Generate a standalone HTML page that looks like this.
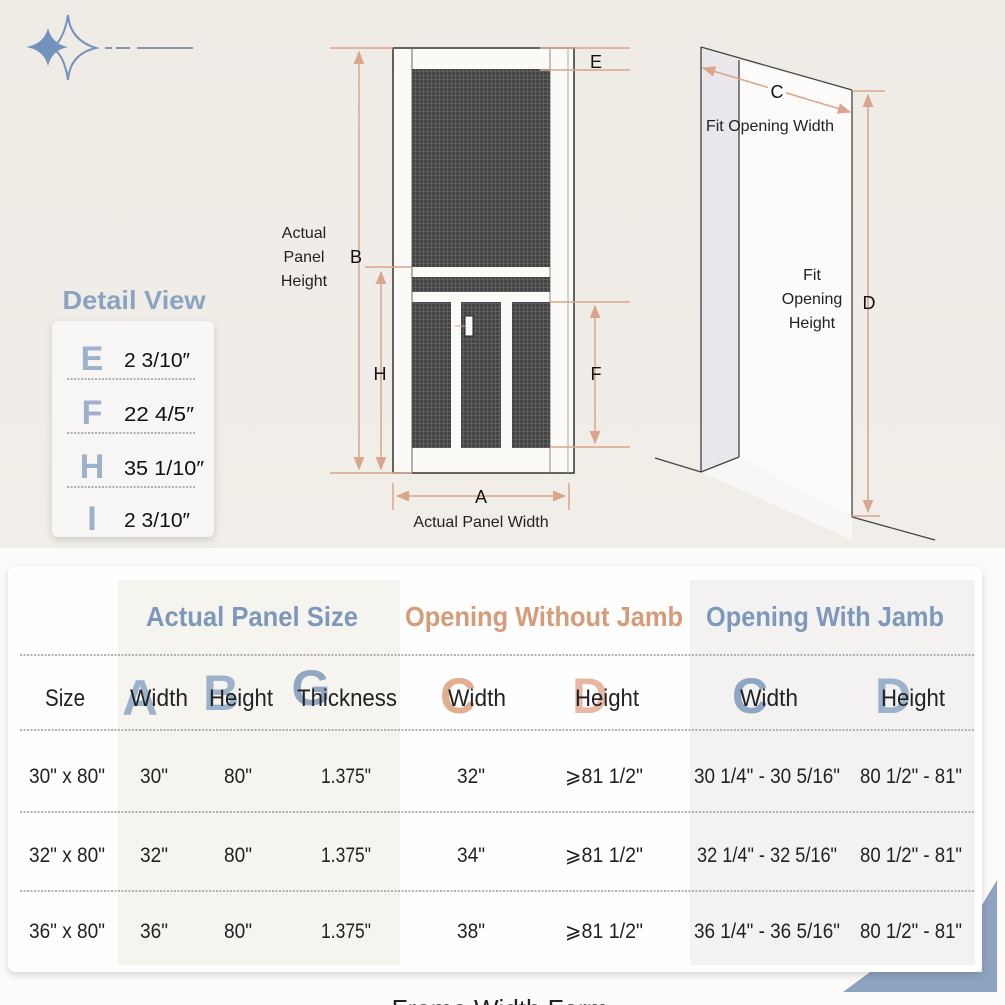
<!DOCTYPE html>
<html><head><meta charset="utf-8"><style>
html,body{margin:0;padding:0;background:#fff;}
svg{display:block;}
text{font-family:"Liberation Sans",sans-serif;}
.n{font-family:"Liberation Sans Narrow","Liberation Sans",sans-serif;}
</style></head><body>
<svg width="1005" height="1005" viewBox="0 0 1005 1005" xmlns="http://www.w3.org/2000/svg">
<defs>
<pattern id="mesh" width="4" height="4" patternUnits="userSpaceOnUse">
<rect width="4" height="4" fill="#5e5e5e"/><rect width="3" height="3" fill="#444"/>
</pattern>
<linearGradient id="bg" x1="0" y1="0" x2="0" y2="1"><stop offset="0" stop-color="#efebe5"/><stop offset="1" stop-color="#f1eee9"/></linearGradient>
<marker id="ar" viewBox="0 0 10 10" refX="9" refY="5" markerWidth="9" markerHeight="9" orient="auto-start-reverse"><path d="M0,1 L10,5 L0,9 z" fill="#d9a58c"/></marker>
<filter id="sh" x="-5%" y="-5%" width="110%" height="110%"><feDropShadow dx="0" dy="3" stdDeviation="4" flood-color="#000" flood-opacity="0.15"/></filter>
</defs>
<rect width="1005" height="548" fill="url(#bg)"/>
<rect y="548" width="1005" height="457" fill="#fcfbfa"/>
<polygon points="843,992 870,972 982,972 982,905 997,880 997,992" fill="#8ea3bf"/>

<!-- logo -->
<path d="M48,28 Q52,44 68,47 Q52,50 48,66 Q44,50 26,47 Q44,44 48,28z" fill="#7393bc"/>
<path d="M68,15 Q70,40 96,48 Q70,54 68,80 Q64,54 52,48 Q64,40 68,15z" fill="none" stroke="#7393bc" stroke-width="2"/>
<line x1="105" y1="48" x2="112" y2="48" stroke="#8a96a8" stroke-width="2"/>
<line x1="116" y1="48" x2="130" y2="48" stroke="#8a96a8" stroke-width="2"/>
<line x1="137" y1="48" x2="193" y2="48" stroke="#8a96a8" stroke-width="2"/>

<!-- door -->
<rect x="393" y="48" width="181" height="425" fill="#fbfaf7" stroke="#333" stroke-width="1.5"/>
<line x1="412" y1="48" x2="412" y2="473" stroke="#666"/>
<line x1="550" y1="48" x2="550" y2="473" stroke="#888"/>
<line x1="568" y1="48" x2="568" y2="473" stroke="#aaa"/>
<rect x="412" y="69" width="138" height="198" fill="url(#mesh)"/>
<rect x="412" y="277" width="138" height="15" fill="url(#mesh)"/>
<rect x="412" y="302" width="138" height="146" fill="url(#mesh)"/>
<rect x="451" y="302" width="10" height="146" fill="#fbfaf7"/>
<rect x="501" y="302" width="11" height="146" fill="#fbfaf7"/>
<rect x="465" y="316" width="8" height="20" fill="#fbfaf7" stroke="#222"/>
<line x1="455" y1="326" x2="465" y2="326" stroke="#d9a58c"/>

<!-- door dims -->
<g stroke="#d9a58c" stroke-width="1.5" fill="none">
<line x1="330" y1="48" x2="393" y2="48"/><line x1="330" y1="473" x2="412" y2="473"/>
<line x1="359" y1="52" x2="359" y2="469" marker-start="url(#ar)" marker-end="url(#ar)"/>
<line x1="365" y1="267" x2="412" y2="267"/>
<line x1="381" y1="272" x2="381" y2="469" marker-start="url(#ar)" marker-end="url(#ar)"/>
<line x1="550" y1="302" x2="630" y2="302"/><line x1="550" y1="447" x2="630" y2="447"/>
<line x1="595" y1="306" x2="595" y2="443" marker-start="url(#ar)" marker-end="url(#ar)"/>
<line x1="540" y1="48" x2="630" y2="48"/><line x1="540" y1="70" x2="630" y2="70"/>
<line x1="393" y1="483" x2="393" y2="510"/><line x1="569" y1="483" x2="569" y2="510"/>
<line x1="397" y1="496" x2="565" y2="496" marker-start="url(#ar)" marker-end="url(#ar)"/>
</g>
<g font-size="18" fill="#111" text-anchor="middle">
<text x="356" y="263">B</text><text x="380" y="380">H</text><text x="596" y="380">F</text>
<text x="596" y="68">E</text><text x="481" y="503">A</text>
</g>
<g font-size="16" fill="#222" text-anchor="middle">
<text x="481" y="527">Actual Panel Width</text>
<text x="304" y="238">Actual</text><text x="304" y="262">Panel</text><text x="304" y="286">Height</text>
</g>

<!-- jamb -->
<polygon points="739,60 852,90 852,517 739,457" fill="#fcfbf9"/>
<polygon points="701,472 739,457 852,517 852,540" fill="#f8f7f5"/>
<polygon points="701,47 739,60 739,457 701,472" fill="#e9e7ec"/>
<g stroke="#444" stroke-width="1.3" fill="none">
<line x1="701" y1="47" x2="701" y2="472"/><line x1="739" y1="60" x2="739" y2="457"/>
<line x1="701" y1="47" x2="852" y2="90"/><line x1="852" y1="90" x2="852" y2="517"/>
<line x1="701" y1="472" x2="739" y2="457"/><line x1="655" y1="458" x2="701" y2="472"/>
<line x1="852" y1="517" x2="935" y2="540"/>
</g>
<g stroke="#d9a58c" stroke-width="1.5" fill="none">
<line x1="703" y1="68" x2="850" y2="112" marker-start="url(#ar)" marker-end="url(#ar)"/>
<line x1="852" y1="91" x2="885" y2="91"/><line x1="852" y1="516" x2="880" y2="516"/>
<line x1="868" y1="95" x2="868" y2="512" marker-start="url(#ar)" marker-end="url(#ar)"/>
</g>
<rect x="768" y="80" width="18" height="20" fill="#fcfbf9"/>
<g font-size="18" fill="#111" text-anchor="middle"><text x="777" y="98">C</text><text x="869" y="309">D</text></g>
<g font-size="16" fill="#222" text-anchor="middle">
<text x="770" y="131">Fit Opening Width</text>
<text x="812" y="280">Fit</text><text x="812" y="304">Opening</text><text x="812" y="328">Height</text>
</g>

<!-- detail view -->
<text x="134" y="309" font-size="26" font-weight="bold" fill="#8aa3c2" text-anchor="middle" textLength="143" lengthAdjust="spacingAndGlyphs">Detail View</text>
<rect x="52" y="321" width="162" height="216" rx="6" fill="#f7f6f4" filter="url(#sh)"/>
<g font-size="34" font-weight="bold" fill="#9cb1cc" text-anchor="middle">
<text x="92" y="370">E</text><text x="92" y="424">F</text><text x="92" y="478">H</text><text x="92" y="530">I</text>
</g>
<g font-size="20" fill="#111" class="n">
<text x="124" y="367" textLength="66" lengthAdjust="spacingAndGlyphs">2 3/10″</text>
<text x="124" y="421" textLength="70" lengthAdjust="spacingAndGlyphs">22 4/5″</text>
<text x="124" y="475" textLength="80" lengthAdjust="spacingAndGlyphs">35 1/10″</text>
<text x="124" y="527" textLength="66" lengthAdjust="spacingAndGlyphs">2 3/10″</text>
</g>
<g stroke="#999" stroke-width="1.5" stroke-dasharray="2,1.5">
<line x1="67" y1="379" x2="195" y2="379"/><line x1="67" y1="433" x2="195" y2="433"/><line x1="67" y1="487" x2="195" y2="487"/>
</g>

<!-- table card -->
<rect x="8" y="566" width="974" height="406" rx="8" fill="#fefefe" filter="url(#sh)"/>
<rect x="118" y="580" width="282" height="385" fill="#f6f4ef"/>
<rect x="690" y="580" width="285" height="385" fill="#f3f2f1"/>
<g font-size="28" font-weight="bold" text-anchor="middle">
<text x="252" y="626" fill="#7d98ba" textLength="212" lengthAdjust="spacingAndGlyphs">Actual Panel Size</text>
<text x="544" y="626" fill="#d69b78" textLength="278" lengthAdjust="spacingAndGlyphs">Opening Without Jamb</text>
<text x="825" y="626" fill="#7d98ba" textLength="238" lengthAdjust="spacingAndGlyphs">Opening With Jamb</text>
</g>
<g stroke="#999" stroke-width="1.5" stroke-dasharray="2,1.5">
<line x1="20" y1="655" x2="975" y2="655"/><line x1="20" y1="730" x2="975" y2="730"/>
<line x1="20" y1="812" x2="975" y2="812"/><line x1="20" y1="891" x2="975" y2="891"/>
</g>
<g font-size="50" font-weight="bold" opacity="0.75" text-anchor="middle">
<text x="140" y="715" fill="#7f9cc0">A</text><text x="221" y="710" fill="#7f9cc0">B</text>
<text x="311" y="705" fill="#6e8db4">G</text><text x="458" y="713" fill="#d8946c">C</text>
<text x="590" y="713" fill="#dfa084">D</text><text x="750" y="713" fill="#6e8db4">C</text>
<text x="893" y="713" fill="#7f9cc0">D</text>
</g>
<g font-size="24" fill="#222" text-anchor="middle" class="n">
<text x="65" y="706" textLength="40" lengthAdjust="spacingAndGlyphs">Size</text>
<text x="159" y="706" textLength="58" lengthAdjust="spacingAndGlyphs">Width</text>
<text x="241" y="706" textLength="64" lengthAdjust="spacingAndGlyphs">Height</text>
<text x="347" y="706" textLength="100" lengthAdjust="spacingAndGlyphs">Thickness</text>
<text x="477" y="706" textLength="58" lengthAdjust="spacingAndGlyphs">Width</text>
<text x="607" y="706" textLength="64" lengthAdjust="spacingAndGlyphs">Height</text>
<text x="769" y="706" textLength="58" lengthAdjust="spacingAndGlyphs">Width</text>
<text x="913" y="706" textLength="64" lengthAdjust="spacingAndGlyphs">Height</text>
</g>
<g font-size="21" fill="#222" text-anchor="middle" class="n">
<text x="67" y="783" textLength="76" lengthAdjust="spacingAndGlyphs">30" x 80"</text>
<text x="154" y="783" textLength="28" lengthAdjust="spacingAndGlyphs">30"</text><text x="238" y="783" textLength="28" lengthAdjust="spacingAndGlyphs">80"</text>
<text x="346" y="783" textLength="50" lengthAdjust="spacingAndGlyphs">1.375"</text>
<text x="471" y="783" textLength="28" lengthAdjust="spacingAndGlyphs">32"</text>
<text x="604" y="783" textLength="78" lengthAdjust="spacingAndGlyphs">⩾81 1/2"</text>
<text x="767" y="783" textLength="146" lengthAdjust="spacingAndGlyphs">30 1/4" - 30 5/16"</text>
<text x="911" y="783" textLength="102" lengthAdjust="spacingAndGlyphs">80 1/2" - 81"</text>

<text x="67" y="862" textLength="76" lengthAdjust="spacingAndGlyphs">32" x 80"</text>
<text x="154" y="862" textLength="28" lengthAdjust="spacingAndGlyphs">32"</text><text x="238" y="862" textLength="28" lengthAdjust="spacingAndGlyphs">80"</text>
<text x="346" y="862" textLength="50" lengthAdjust="spacingAndGlyphs">1.375"</text>
<text x="471" y="862" textLength="28" lengthAdjust="spacingAndGlyphs">34"</text>
<text x="604" y="862" textLength="78" lengthAdjust="spacingAndGlyphs">⩾81 1/2"</text>
<text x="767" y="862" textLength="140" lengthAdjust="spacingAndGlyphs">32 1/4" - 32 5/16"</text>
<text x="911" y="862" textLength="102" lengthAdjust="spacingAndGlyphs">80 1/2" - 81"</text>

<text x="67" y="938" textLength="76" lengthAdjust="spacingAndGlyphs">36" x 80"</text>
<text x="154" y="938" textLength="28" lengthAdjust="spacingAndGlyphs">36"</text><text x="238" y="938" textLength="28" lengthAdjust="spacingAndGlyphs">80"</text>
<text x="346" y="938" textLength="50" lengthAdjust="spacingAndGlyphs">1.375"</text>
<text x="471" y="938" textLength="28" lengthAdjust="spacingAndGlyphs">38"</text>
<text x="604" y="938" textLength="78" lengthAdjust="spacingAndGlyphs">⩾81 1/2"</text>
<text x="767" y="938" textLength="146" lengthAdjust="spacingAndGlyphs">36 1/4" - 36 5/16"</text>
<text x="911" y="938" textLength="102" lengthAdjust="spacingAndGlyphs">80 1/2" - 81"</text>
</g>
<text x="500" y="1018" font-size="26" fill="#222" text-anchor="middle">Frame Width Form</text>
</svg>
</body></html>
